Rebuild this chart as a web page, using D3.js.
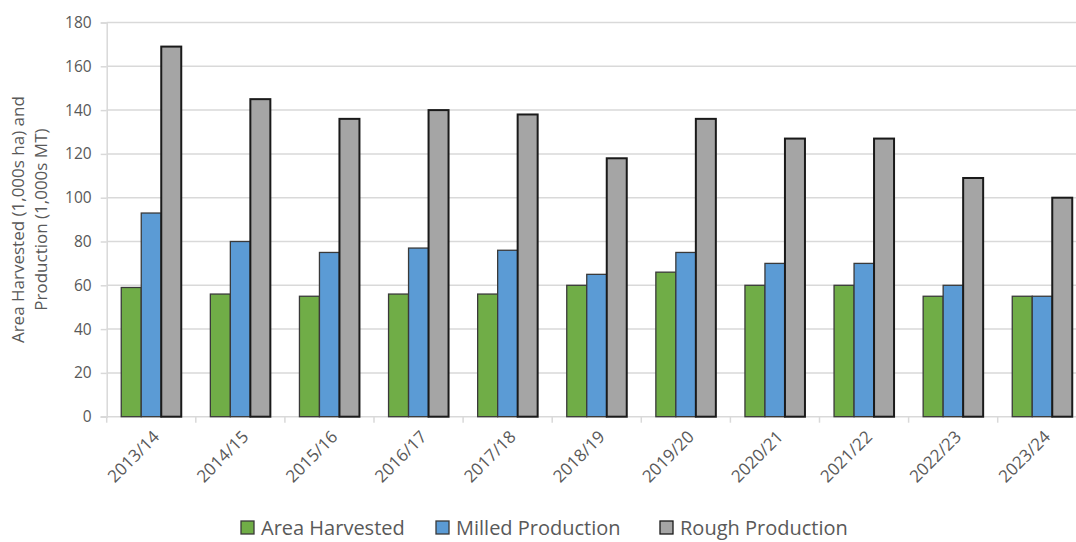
<!DOCTYPE html>
<html>
<head>
<meta charset="utf-8">
<script src="https://cdn.jsdelivr.net/npm/d3@7"></script>
<style>
  body { margin: 0; background: #fff; overflow: hidden; }
  text { font-family: "Open Sans", "Noto Sans", sans-serif; fill: #595959; }
</style>
</head>
<body>
<div id="chart"></div>
<script>
const years = ["2013/14", "2014/15", "2015/16", "2016/17", "2017/18", "2018/19",
  "2019/20", "2020/21", "2021/22", "2022/23", "2023/24"];
const areaHarvested = [59, 56, 55, 56, 56, 60, 66, 60, 60, 55, 55];
const milledProduction = [93, 80, 75, 77, 76, 65, 75, 70, 70, 60, 55];
const roughProduction = [169, 145, 136, 140, 138, 118, 136, 127, 127, 109, 100];
const seriesNames = ["Area Harvested", "Milled Production", "Rough Production"];
const yTicks = [0, 20, 40, 60, 80, 100, 120, 140, 160, 180];

const colors = ["#70ad47", "#5b9bd5", "#a5a5a5"];
const strokes = ["#3a3a3a", "#3a3a3a", "#1a1a1a"];
const allSeries = [areaHarvested, milledProduction, roughProduction];

const W = 1076, H = 542;
const left = 106.7, bandW = 89.1;

const svg = d3.select('#chart')
  .append('svg')
  .attr('width', W)
  .attr('height', H);

const x0 = d3.scaleBand()
  .domain(years)
  .range([left, left + bandW * years.length])
  .padding(0);

const groupW = 60;
const x1 = d3.scaleBand()
  .domain(seriesNames)
  .range([(bandW - groupW) / 2, (bandW + groupW) / 2]);

const y = d3.scaleLinear()
  .domain([0, 180])
  .range([416.7, 22.5]);

// gridlines
svg.append('g')
  .selectAll('line')
  .data(yTicks.slice(1))
  .enter()
  .append('line')
  .attr('x1', left)
  .attr('x2', W)
  .attr('y1', d => y(d))
  .attr('y2', d => y(d))
  .attr('stroke', '#d9d9d9')
  .attr('stroke-width', 1.5);

// y axis
const yAxis = svg.append('g')
  .attr('transform', `translate(${left},0)`)
  .call(d3.axisLeft(y).tickValues(yTicks).tickSize(6).tickPadding(9));
yAxis.select('.domain').attr('stroke', '#d9d9d9').attr('stroke-width', 1.5);
yAxis.selectAll('.tick line').attr('stroke', '#d9d9d9').attr('stroke-width', 1.5);
yAxis.selectAll('.tick text').attr('font-size', 15.5).style('fill', '#595959');

// x axis baseline + ticks between categories
svg.append('line')
  .attr('x1', left - 6)
  .attr('x2', W)
  .attr('y1', y(0))
  .attr('y2', y(0))
  .attr('stroke', '#d9d9d9')
  .attr('stroke-width', 1.5);

svg.append('g')
  .selectAll('line')
  .data(years)
  .enter()
  .append('line')
  .attr('x1', d => x0(d))
  .attr('x2', d => x0(d))
  .attr('y1', y(0))
  .attr('y2', y(0) + 6)
  .attr('stroke', '#d9d9d9')
  .attr('stroke-width', 1.5);

// x labels
svg.append('g')
  .selectAll('text')
  .data(years)
  .enter()
  .append('text')
  .attr('transform', d => `translate(${x0(d) + bandW / 2 + 5},${y(0) + 17}) rotate(-45)`)
  .attr('text-anchor', 'end')
  .attr('dy', '0.35em')
  .attr('font-size', 17)
  .text(d => d);

// bars
const groups = svg.append('g')
  .selectAll('g')
  .data(years)
  .enter()
  .append('g')
  .attr('transform', d => `translate(${x0(d)},0)`);

groups.selectAll('rect')
  .data((d, i) => seriesNames.map((s, j) => ({ s: s, j: j, v: allSeries[j][i] })))
  .enter()
  .append('rect')
  .attr('x', d => x1(d.s))
  .attr('y', d => y(d.v))
  .attr('width', x1.bandwidth())
  .attr('height', d => y(0) - y(d.v))
  .attr('fill', d => colors[d.j])
  .attr('stroke', d => strokes[d.j])
  .attr('stroke-width', d => d.j === 2 ? 2 : 1.3);

// y axis title
const yt = svg.append('text')
  .attr('transform', `translate(24,${(y(0) + y(180)) / 2}) rotate(-90)`)
  .attr('text-anchor', 'middle')
  .attr('font-size', 17);
yt.append('tspan').attr('x', 0).attr('dy', '0em').text('Area Harvested (1,000s ha) and');
yt.append('tspan').attr('x', 0).attr('dy', '1.35em').text('Production (1,000s MT)');

// legend
const legendX = [241, 436, 660];
const legend = svg.append('g')
  .selectAll('g')
  .data(seriesNames)
  .enter()
  .append('g')
  .attr('transform', (d, i) => `translate(${legendX[i]},528)`);

legend.append('rect')
  .attr('x', 0)
  .attr('y', -7)
  .attr('width', 13)
  .attr('height', 13)
  .attr('fill', (d, i) => colors[i])
  .attr('stroke', (d, i) => strokes[i])
  .attr('stroke-width', 1.3);

legend.append('text')
  .attr('x', 20)
  .attr('y', 0)
  .attr('dy', '0.35em')
  .attr('font-size', 20)
  .text(d => d);
</script>
</body>
</html>
